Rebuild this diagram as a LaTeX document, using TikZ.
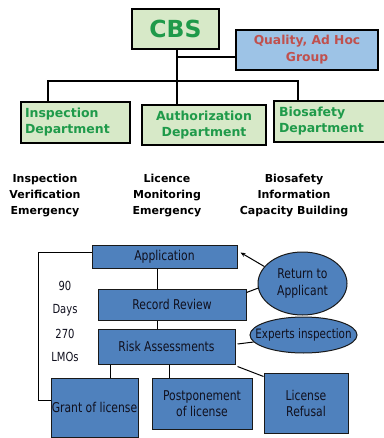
\documentclass[tikz,border=0pt]{standalone}
\usepackage{fontspec}
\setmainfont{DejaVu Sans}
\newfontfamily\condf[FakeStretch=0.8]{DejaVu Sans}
\usetikzlibrary{arrows.meta,shapes.geometric}
\definecolor{gfill}{HTML}{D7E9C8}
\definecolor{gtext}{HTML}{1F9A4A}
\definecolor{bfill}{HTML}{9DC3E6}
\definecolor{rtext}{HTML}{C0504D}
\definecolor{dfill}{HTML}{4F81BD}
\definecolor{dtext}{HTML}{10101E}
\tikzset{
  topbox/.style={draw=black, line width=1.5pt, fill=gfill, text=gtext, font=\bfseries\fontsize{12.5}{16}\selectfont, inner sep=0pt, align=center},
  midtext/.style={font=\bfseries\fontsize{11}{16}\selectfont, align=center, text=black, inner sep=0pt},
  lowbox/.style={draw=black!90, line width=1pt, fill=dfill, text=dtext, font=\condf\fontsize{13.5}{16}\selectfont, align=center, inner sep=0pt},
  lowell/.style={ellipse, draw=black!90, line width=1pt, fill=dfill, inner sep=0pt},
  lowtext/.style={text=dtext, font=\condf\fontsize{13.5}{16.5}\selectfont, align=center, inner sep=0pt},
  numtext/.style={text=dtext, font=\condf\fontsize{12.5}{15}\selectfont, inner sep=0pt},
  topline/.style={draw=black, line width=1.3pt},
  lowline/.style={draw=black, line width=1pt},
}
\begin{document}
\begin{tikzpicture}[x=1pt,y=-1pt]
\useasboundingbox (0,0) rectangle (383,438);
% top org chart
\node[topbox, minimum width=87pt, minimum height=40pt, font=\bfseries\fontsize{23.5}{26}\selectfont] (cbs) at (175.5,29) {CBS};
\node[topbox, fill=bfill, text=rtext, minimum width=142pt, minimum height=40pt, font=\bfseries\fontsize{12.3}{17}\selectfont] (qual) at (307,50) {Quality, Ad Hoc\\Group};
\node[topbox, text width=101pt, inner xsep=4pt, align=left, minimum height=41pt] (insp) at (75.5,122.5) {Inspection\\Department};
\node[topbox, minimum width=124pt, minimum height=40pt] (auth) at (204,125) {Authorization\\Department};
\node[topbox, text width=106pt, inner xsep=5pt, align=left, minimum height=41pt] (bio) at (332,121.5) {Biosafety\\Department};
\coordinate (j1) at (177,57);
\coordinate (busl) at (48,81);
\coordinate (busr) at (298,81);
\draw[topline] (cbs.south -| j1) -- (auth.north -| j1);
\draw[topline] (j1) -- (qual.west |- j1);
\draw[topline] (insp.north -| busl) -- (busl) -- (busr) -- (bio.north -| busr);
% middle texts
\node[midtext] (m1) at (45,196) {Inspection\\Verification\\Emergency};
\node[midtext] (m2) at (167,196) {Licence\\Monitoring\\Emergency};
\node[midtext] (m3) at (294,196) {Biosafety\\Information\\Capacity Building};
% lower flow
\node[lowbox, minimum width=145pt, minimum height=23pt] (app) at (164.5,256.5) {Application};
\node[lowbox, minimum width=148pt, minimum height=31pt] (rr) at (172,304.5) {Record Review};
\node[lowbox, minimum width=137pt, minimum height=35pt] (risk) at (166.5,346.5) {Risk Assessments};
\node[lowbox, minimum width=87pt, minimum height=59pt] (grant) at (94.5,407.5) {Grant of license};
\node[lowbox, minimum width=100pt, minimum height=51pt] (post) at (202,403.5) {Postponement\\of license};
\node[lowbox, minimum width=84pt, minimum height=60pt] (ref) at (306,403) {License\\Refusal};
\node[lowell, minimum width=89pt, minimum height=63pt] (ret) at (302.5,283.5) {};
\node[lowtext] (rett) at (ret) {Return to\\Applicant};
\node[lowell, minimum width=107pt, minimum height=36pt] (exp) at (303.5,335) {};
\node[lowtext, font=\condf\fontsize{13}{16}\selectfont] (expt) at (exp) {Experts inspection};
\node[numtext] (n1) at (65,286) {90};
\node[numtext] (n2) at (65,310) {Days};
\node[numtext] (n3) at (65,334) {270};
\node[numtext] (n4) at (65,357) {LMOs};
\coordinate (c1) at (157,0);
\coordinate (c2) at (110,0);
\coordinate (c3) at (169,0);
\coordinate (lx) at (38,0);
\coordinate (gw) at ([yshift=7.5pt]grant.west);
\draw[lowline] (app.south -| c1) -- (rr.north -| c1);
\draw[lowline] (rr.south -| c1) -- (risk.north -| c1);
\draw[lowline] (risk.south -| c2) -- (grant.north -| c2);
\draw[lowline] (risk.south -| c3) -- (post.north -| c3);
\draw[lowline] ([xshift=2pt,yshift=-2pt]risk.south east) -- ([yshift=-4pt]ref.north west);
\draw[lowline] ([yshift=4.5pt]app.west) -| (lx |- gw) -- (gw);
\draw[lowline, -{Stealth[length=5pt,width=4pt]}] (ret.156) -- ([xshift=3pt,yshift=-8pt]app.north east);
\draw[lowline] ([yshift=-4pt]rr.north east) -- (ret.186);
\draw[lowline] ([xshift=2pt,yshift=2.5pt]risk.east) -- (exp.188);
\end{tikzpicture}
\end{document}
